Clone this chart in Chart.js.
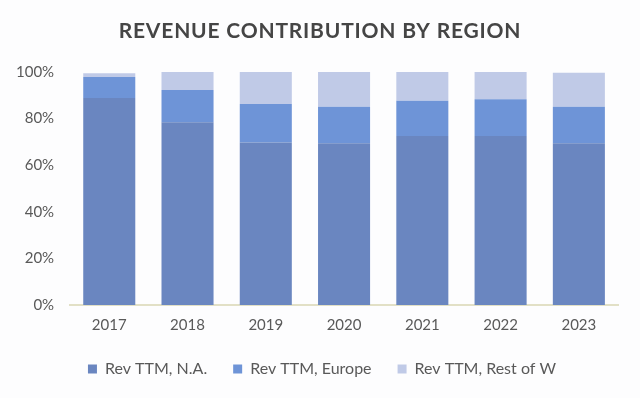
<!DOCTYPE html>
<html>
<head>
<meta charset="utf-8">
<script src="https://cdn.jsdelivr.net/npm/chart.js@4"></script>
<style>
  html, body { margin: 0; padding: 0; background: #fdfdfe; }
  #wrap { width: 640px; height: 398px; position: relative; }
</style>
</head>
<body>
<div id="wrap"><canvas id="chart"></canvas></div>
<script>
// --- Data (share of revenue, %) ---
const years = ['2017', '2018', '2019', '2020', '2021', '2022', '2023'];
const revNA = [88.8, 78.4, 69.7, 69.4, 72.5, 72.5, 69.4];
const revEurope = [9.1, 13.9, 16.6, 15.7, 15.2, 15.8, 15.7];
const revRest = [1.6, 7.7, 13.7, 14.9, 12.3, 11.7, 14.6];
const yTicks = [0, 20, 40, 60, 80, 100];
const chartTitle = 'REVENUE CONTRIBUTION BY REGION';

// Theme colors
const COLORS = {
    na: '#6a86c0',
    europe: '#6e94d7',
    rest: '#c0cae7',
    text: '#595959',
    title: '#454545'
};

Chart.defaults.font.family = 'Lato, "Open Sans", sans-serif';
Chart.defaults.color = COLORS.text;

// title drawn by hand so it can get letter spacing
const spacedTitle = {
    id: 'spacedTitle',
    afterLayout(chart) {
        // legend sits a bit right of centre in the original
        chart.legend.left += 13;
        chart.legend.right += 13;
    },
    afterDraw(chart) {
        const ctx = chart.ctx;
        ctx.save();
        ctx.font = 'bold 21px Lato, "Open Sans", sans-serif';
        ctx.fillStyle = COLORS.title;
        ctx.textAlign = 'center';
        ctx.textBaseline = 'middle';
        ctx.letterSpacing = '0.8px';
        ctx.fillText(chartTitle, chart.width / 2, 31);
        ctx.restore();
    }
};

new Chart(document.getElementById('chart').getContext('2d'), {
    type: 'bar',
    data: {
        labels: years,
        datasets: [
            { label: 'Rev TTM, N.A.', data: revNA, backgroundColor: COLORS.na },
            { label: 'Rev TTM, Europe', data: revEurope, backgroundColor: COLORS.europe },
            { label: 'Rev TTM, Rest of W', data: revRest, backgroundColor: COLORS.rest }
        ]
    },
    options: {
        responsive: true,
        maintainAspectRatio: false,
        animation: false,
        layout: { padding: { left: 0, right: 22, top: 72, bottom: 11 } },
        datasets: { bar: { categoryPercentage: 0.665, barPercentage: 1.0 } },
        scales: {
            x: {
                stacked: true,
                grid: { display: false, drawTicks: false },
                border: { display: true, color: '#e2e0c6', width: 2 },
                ticks: { font: { size: 15 }, padding: 11 },
                afterFit: (axis) => { axis.height -= 10; }
            },
            y: {
                stacked: true,
                min: 0,
                max: 100,
                afterBuildTicks: (axis) => { axis.ticks = yTicks.map(v => ({ value: v })); },
                grid: { display: false, drawTicks: false },
                border: { display: false },
                ticks: { font: { size: 15 }, padding: 16, callback: (v) => v + '%' }
            }
        },
        plugins: {
            title: { display: false },
            legend: {
                position: 'bottom',
                labels: { boxWidth: 9, boxHeight: 9, padding: 26, font: { size: 16 } }
            },
            tooltip: { enabled: false }
        }
    },
    plugins: [spacedTitle]
});
</script>
</body>
</html>
